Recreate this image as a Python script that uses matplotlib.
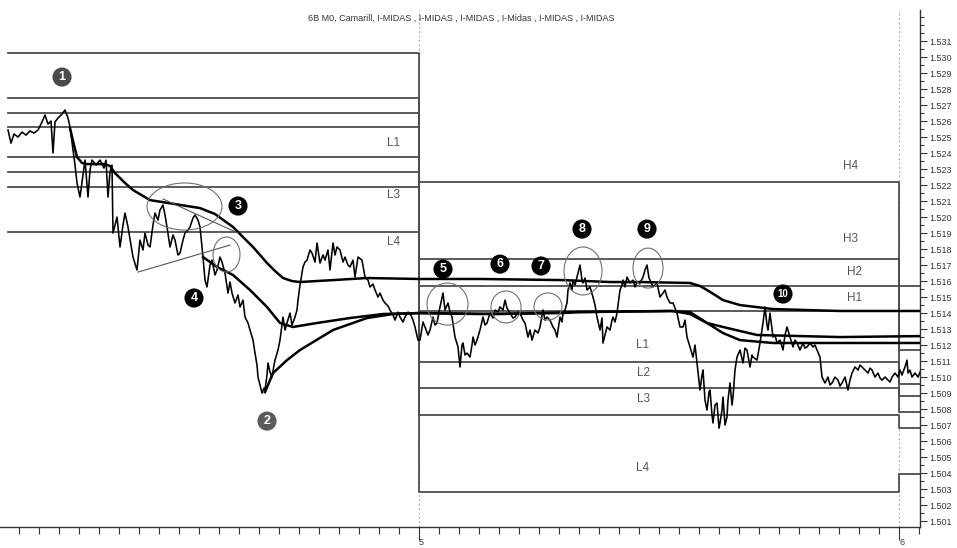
import matplotlib
matplotlib.use('Agg')
import matplotlib.pyplot as plt
from matplotlib.patches import Ellipse
from matplotlib.ticker import FixedLocator, MultipleLocator, FormatStrFormatter

plt.rcParams['font.family'] = ['Liberation Sans', 'DejaVu Sans']

title = "6B M0, Camarill, I-MIDAS , I-MIDAS , I-MIDAS , I-Midas , I-MIDAS , I-MIDAS"

# time in minutes (day "5" starts at 1440, day "6" at 2880)
day_starts = [1440, 2880]
day_labels = ['5', '6']

price_t_day1 = [207,216,225,237,249,261,273,285,297,309,
                318,327,336,342,348,357,369,378,387,393,
                402,408,414,423,432,438,447,453,459,471,
                483,495,501,507,513,519,522,534,543,552,
                558,567,576,582,594,603,612,618,627,633,
                642,648,657,663,672,678,684,693,702,708,
                717,723,732,738,747,753,762,768,777,783,
                792,798,804,813,819,828,834,843,849,858,
                867,873,879,888,897,903,912,918,927,933,
                942,948,954,957,963,969,975,978,984,987,
                993,999,1005,1008,1017,1023,1029,1032,1038,1044,
                1053,1059,1068,1074,1077,1083,1092,1098,1104,1113,
                1119,1128,1134,1143,1152,1158,1167,1173,1182,1188,
                1194,1203,1212,1218,1227,1233,1242,1248,1257,1269,
                1278,1287,1293,1302,1308,1317,1323,1332,1338,1347,
                1353,1362,1368,1377,1383,1392,1398,1407,1413,1422,
                1428,1437]
price_v_day1 = [1.52544,1.52462,1.52519,1.52500,1.52531,1.52512,1.52538,1.52525,1.52544,1.52594,
                1.52638,1.52581,1.52600,1.52400,1.52594,1.52619,1.52644,1.52669,1.52619,1.52563,
                1.52419,1.52325,1.52213,1.52125,1.52263,1.52356,1.52125,1.52294,1.52356,1.52325,
                1.52356,1.52306,1.52356,1.52125,1.52281,1.52325,1.51900,1.52000,1.51813,1.51950,
                1.52025,1.51938,1.51825,1.51750,1.51669,1.51856,1.51794,1.51900,1.51825,1.51813,
                1.51950,1.52025,1.51981,1.52044,1.52075,1.52013,1.51938,1.51813,1.51888,1.51856,
                1.51763,1.51775,1.51856,1.51900,1.51919,1.51938,1.51994,1.52013,1.51981,1.51938,
                1.51750,1.51606,1.51563,1.51700,1.51731,1.51638,1.51669,1.51750,1.51719,1.51650,
                1.51525,1.51594,1.51525,1.51463,1.51513,1.51438,1.51481,1.51375,1.51338,1.51294,
                1.51231,1.51150,1.51075,1.51000,1.50950,1.50900,1.50931,1.50919,1.51013,1.51088,
                1.51031,1.51000,1.51075,1.51106,1.51169,1.51231,1.51325,1.51375,1.51294,1.51338,
                1.51400,1.51325,1.51375,1.51419,1.51481,1.51575,1.51688,1.51719,1.51731,1.51794,
                1.51775,1.51719,1.51838,1.51713,1.51763,1.51731,1.51794,1.51669,1.51838,1.51763,
                1.51813,1.51794,1.51719,1.51750,1.51700,1.51688,1.51731,1.51625,1.51750,1.51731,
                1.51625,1.51606,1.51563,1.51581,1.51544,1.51500,1.51525,1.51481,1.51463,1.51444,
                1.51419,1.51388,1.51356,1.51406,1.51375,1.51344,1.51375,1.51406,1.51400,1.51356,
                1.51313,1.51231]

price_t_day2 = [1443,1452,1458,1467,1473,1482,1488,1494,1503,1512,
                1518,1527,1533,1539,1548,1557,1563,1569,1572,1578,
                1584,1593,1599,1602,1608,1614,1623,1632,1638,1644,
                1653,1662,1668,1677,1683,1692,1698,1704,1713,1722,
                1728,1737,1743,1752,1758,1767,1773,1779,1788,1797,
                1803,1812,1818,1824,1833,1842,1848,1854,1863,1869,
                1872,1878,1884,1887,1893,1899,1902,1908,1914,1923,
                1929,1932,1938,1944,1953,1962,1968,1974,1983,1989,
                1992,1998,2004,2013,2019,2022,2028,2034,2043,2049,
                2052,2058,2064,2073,2082,2088,2094,2103,2112,2118,
                2124,2130,2133,2142,2148,2154,2163,2172,2178,2184,
                2193,2202,2208,2214,2223,2232,2238,2244,2253,2262,
                2268,2274,2283,2289,2292,2298,2304,2310,2313,2319,
                2322,2328,2334,2340,2343,2349,2352,2358,2364,2367,
                2373,2379,2382,2388,2394,2403,2412,2418,2424,2433,
                2439,2442,2454,2463,2472,2478,2484,2487,2493,2502,
                2508,2514,2523,2532,2538,2544,2553,2562,2568,2574,
                2583,2592,2598,2604,2613,2622,2628,2634,2643,2649,
                2658,2667,2673,2679,2688,2697,2703,2709,2718,2727,
                2733,2739,2748,2757,2763,2769,2778,2787,2793,2799,
                2808,2817,2823,2829,2838,2847,2853,2859,2868,2877,
                2883,2889,2898,2904,2907,2913,2919,2928,2937,2943]
price_v_day2 = [1.51231,1.51344,1.51313,1.51263,1.51294,1.51375,1.51325,1.51338,1.51438,1.51525,
                1.51419,1.51463,1.51406,1.51375,1.51250,1.51188,1.51063,1.51200,1.51213,1.51138,
                1.51150,1.51125,1.51200,1.51250,1.51200,1.51231,1.51294,1.51375,1.51325,1.51338,
                1.51400,1.51369,1.51419,1.51406,1.51438,1.51419,1.51481,1.51431,1.51400,1.51369,
                1.51375,1.51406,1.51400,1.51356,1.51338,1.51250,1.51294,1.51231,1.51294,1.51275,
                1.51313,1.51419,1.51356,1.51375,1.51356,1.51313,1.51294,1.51250,1.51375,1.51344,
                1.51400,1.51419,1.51463,1.51544,1.51588,1.51544,1.51606,1.51575,1.51625,1.51700,
                1.51606,1.51588,1.51619,1.51544,1.51563,1.51500,1.51450,1.51375,1.51294,1.51369,
                1.51213,1.51263,1.51313,1.51294,1.51356,1.51375,1.51344,1.51400,1.51544,1.51575,
                1.51606,1.51563,1.51625,1.51588,1.51606,1.51563,1.51594,1.51588,1.51625,1.51669,
                1.51700,1.51619,1.51606,1.51563,1.51575,1.51588,1.51500,1.51525,1.51544,1.51500,
                1.51463,1.51463,1.51431,1.51400,1.51313,1.51313,1.51356,1.51250,1.51188,1.51125,
                1.51200,1.51088,1.50919,1.51013,1.51044,1.50856,1.50794,1.50906,1.50919,1.50763,
                1.50713,1.50825,1.50838,1.50681,1.50713,1.50794,1.50875,1.50700,1.50750,1.50856,
                1.50963,1.50825,1.50875,1.51044,1.51125,1.51169,1.51088,1.51181,1.51169,1.51063,
                1.51138,1.51125,1.51106,1.51213,1.51338,1.51438,1.51325,1.51294,1.51400,1.51250,
                1.51263,1.51213,1.51231,1.51169,1.51263,1.51313,1.51250,1.51188,1.51231,1.51213,
                1.51169,1.51213,1.51181,1.51188,1.51213,1.51188,1.51200,1.51169,1.51125,1.51000,
                1.50963,1.51000,1.50950,1.50963,1.51000,1.50981,1.50944,1.50963,1.51000,1.50919,
                1.50981,1.51025,1.51063,1.51044,1.51075,1.51063,1.51044,1.51025,1.51056,1.51044,
                1.51000,1.51025,1.50994,1.50981,1.51000,1.50981,1.50969,1.51000,1.51025,1.51000,
                1.51044,1.51013,1.51063,1.51106,1.51025,1.51044,1.51000,1.51025,1.51000,1.51031]

# I-MIDAS curves
midas_a_t = [393,405,414,429,444,498,513,528,558,582,633,708,783,828,882,912,942,963,984,1008,
             1032,1059,1083,1182,1284,1440,1623,1872,2013,2103,2253,2283,2304,2328,2352,2403,2502,2703,2943]
midas_a_v = [1.52556,1.52450,1.52375,1.52338,1.52331,1.52331,1.52319,1.52275,1.52213,1.52169,
             1.52106,1.52081,1.52056,1.52019,1.51938,1.51875,1.51813,1.51763,1.51713,1.51663,
             1.51619,1.51600,1.51594,1.51606,1.51619,1.51613,1.51613,1.51606,1.51594,1.51594,
             1.51588,1.51569,1.51544,1.51513,1.51481,1.51450,1.51425,1.51413,1.51413]
midas_b_t = [792,834,882,933,984,1023,1062,1134,1233,1332,1440,1623,1872,1914,2193,2253,2304,2352,2454,2703,2943]
midas_b_v = [1.51750,1.51688,1.51638,1.51544,1.51438,1.51338,1.51313,1.51338,1.51369,1.51394,
             1.51400,1.51394,1.51400,1.51406,1.51413,1.51406,1.51338,1.51313,1.51263,1.51250,1.51256]
midas_c_t = [978,1002,1044,1083,1182,1284,1362,1440,1683,1914,2202,2253,2304,2352,2403,2502,2943]
midas_c_v = [1.50906,1.51025,1.51106,1.51169,1.51294,1.51369,1.51394,1.51400,1.51394,1.51406,
             1.51413,1.51394,1.51338,1.51275,1.51231,1.51213,1.51213]

# Camarilla levels (H4, H3, H2, H1, L1, L2, L3, L4) per day
level_t = [207, 1440, 2880, 2943]
levels_day1 = [1.53025, 1.52744, 1.52650, 1.52563, 1.52375, 1.52281, 1.52188, 1.51906]
levels_day2 = [1.52219, 1.51738, 1.51569, 1.51413, 1.51094, 1.50931, 1.50763, 1.50281]
levels_day3 = [1.51569, 1.51256, 1.51169, 1.50956, 1.50881, 1.50781, 1.50681, 1.50394]

level_labels = ['L1', 'L3', 'L4', 'H4', 'H3', 'H2', 'H1', 'L1', 'L2', 'L3', 'L4']
level_label_t = [1365, 1365, 1365, 2736, 2736, 2748, 2748, 2112, 2112, 2112, 2112]
level_label_v = [1.52463, 1.52138, 1.51844, 1.52319, 1.51863, 1.51656, 1.51494,
                 1.51200, 1.51025, 1.50863, 1.50431]

# numbered annotations
note_labels = ['1', '2', '3', '4', '5', '6', '7', '8', '9', '10']
note_t = [369, 984, 897, 765, 1512, 1683, 1806, 1929, 2124, 2532]
note_v = [1.52875, 1.50725, 1.52069, 1.51494, 1.51675, 1.51706, 1.51694, 1.51925, 1.51925, 1.51519]
note_colors = ['#4a4a4a', '#5a5a5a'] + ['#000000'] * 8

# highlight ellipses: centre time, centre price, width (min), height (price)
ell_t = [736.5, 862.5, 1525.5, 1701, 1827, 1932, 2127]
ell_v = [1.52066, 1.51766, 1.51456, 1.51438, 1.51441, 1.51663, 1.51681]
ell_w = [225, 81, 123, 90, 84, 114, 90]
ell_h = [0.00294, 0.00219, 0.00263, 0.00200, 0.00169, 0.00300, 0.00250]

# hand drawn trend lines
trend_lines = [([597, 873], [1.51656, 1.51825]),
               ([672, 897], [1.52113, 1.51900])]

fig = plt.figure(figsize=(9.57, 5.48), dpi=100)
ax = fig.add_axes([0, 21 / 548, 920 / 957, 517 / 548])

for t0 in day_starts:
    ax.axvline(t0, color='#b0b0b0', ls=(0, (1.5, 2)), lw=0.9, zorder=0)

for k in range(len(levels_day1)):
    ys = [levels_day1[k], levels_day2[k], levels_day3[k], levels_day3[k]]
    ax.plot(level_t, ys, drawstyle='steps-post', color='#4d4d4d', lw=1.3, zorder=1)

for txt, tx, ty in zip(level_labels, level_label_t, level_label_v):
    ax.text(tx, ty, txt, ha='center', va='center', fontsize=8.5, color='#555555', zorder=6)

price_t = price_t_day1 + price_t_day2
price_v = price_v_day1 + price_v_day2
ax.plot(price_t, price_v, color='black', lw=1.15, zorder=3)

for mt, mv in [(midas_a_t, midas_a_v), (midas_b_t, midas_b_v), (midas_c_t, midas_c_v)]:
    ax.plot(mt, mv, color='black', lw=1.8, zorder=4, solid_joinstyle='round')

for xs, ys in trend_lines:
    ax.plot(xs, ys, color='#555555', lw=0.8, zorder=4)

for et, ev, ew, eh in zip(ell_t, ell_v, ell_w, ell_h):
    ax.add_patch(Ellipse((et, ev), ew, eh, fill=False, edgecolor='#707070', lw=0.8, zorder=5))

ax.scatter(note_t, note_v, s=190, c=note_colors, zorder=7, linewidths=0)
for lab, nt, nv in zip(note_labels, note_t, note_v):
    ax.text(nt, nv, lab, ha='center', va='center', color='white', fontweight='bold',
            fontsize=7 if len(lab) > 1 else 9, zorder=8)

ax.set_xlim(183, 2943)
ax.set_ylim(1.50063, 1.53294)

for s in ['left', 'top']:
    ax.spines[s].set_visible(False)
for s in ['right', 'bottom']:
    ax.spines[s].set_color('#333333')
    ax.spines[s].set_linewidth(1.0)

ax.yaxis.tick_right()
ax.yaxis.set_major_locator(FixedLocator([1.501 + 0.001 * i for i in range(31)]))
ax.yaxis.set_major_formatter(FormatStrFormatter('%.3f'))
ax.yaxis.set_minor_locator(MultipleLocator(0.0005))
ax.tick_params(axis='y', which='major', direction='out', length=5, width=0.8,
               labelsize=6.5, pad=2, colors='#333333')
ax.tick_params(axis='y', which='minor', direction='out', length=3, width=0.8, colors='#333333')

ax.set_xticks(day_starts)
ax.set_xticklabels(day_labels)
ax.set_xticks(list(range(240, 2943, 60)), minor=True)
ax.tick_params(axis='x', which='major', direction='out', length=9, width=0.8,
               labelsize=6.5, pad=-1, colors='#333333')
ax.tick_params(axis='x', which='minor', direction='out', length=5, width=0.8, colors='#333333')
for lbl in ax.get_xticklabels():
    lbl.set_horizontalalignment('left')

fig.text(461 / 957, 1 - 18 / 548, title, ha='center', va='center', fontsize=6.5, color='#333333')

fig.savefig('out.png', dpi=100)
